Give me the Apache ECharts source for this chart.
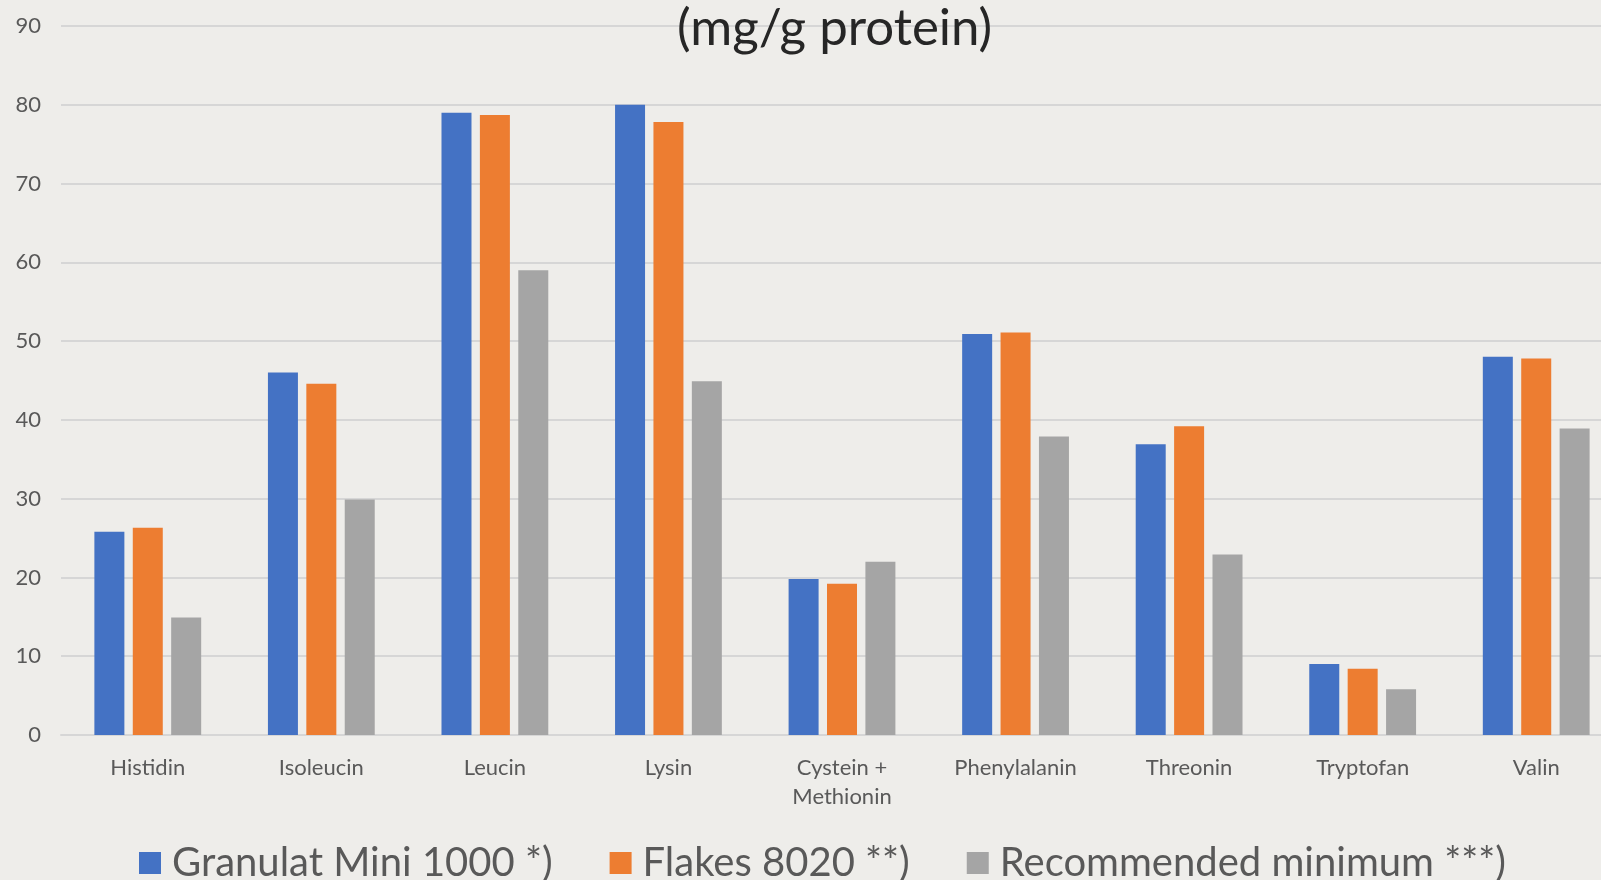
<!DOCTYPE html>
<html>
<head>
<meta charset="utf-8">
<script src="https://cdn.jsdelivr.net/npm/echarts@6/dist/echarts.min.js"></script>
<style>
html,body{margin:0;padding:0;background:#EEEDEA;overflow:hidden;width:1601px;height:880px;}
#main{width:1660px;height:880px;}
</style>
</head>
<body>
<div id="main"></div>
<script>
const categories = ['Histidin','Isoleucin','Leucin','Lysin','Cystein +\nMethionin','Phenylalanin','Threonin','Tryptofan','Valin'];
const granulat = [25.8, 46, 79, 80, 19.8, 50.9, 36.9, 9.0, 48.0];
const flakes = [26.3, 44.6, 78.7, 77.8, 19.2, 51.1, 39.2, 8.4, 47.8];
const recommended = [14.9, 29.9, 59, 44.9, 22, 37.9, 22.9, 5.8, 38.9];
const seriesNames = ['Granulat Mini 1000 *)', 'Flakes 8020 **)', 'Recommended minimum ***)'];
const titleText = '(mg/g protein)';

const chart = echarts.init(document.getElementById('main'));
const font = 'Lato, "Open Sans", sans-serif';
chart.setOption({
  backgroundColor: '#EEEDEA',
  animation: false,
  color: ['#4472C4', '#ED7D31', '#A5A5A5'],
  title: {
    text: titleText,
    left: 672,
    top: -2,
    textStyle: { fontFamily: font, fontSize: 51, fontWeight: 'normal', color: '#262626' }
  },
  legend: {
    data: seriesNames,
    left: 134,
    top: 838,
    itemWidth: 22,
    itemHeight: 22,
    itemGap: 57,
    icon: 'rect',
    textStyle: { fontFamily: font, fontSize: 40, color: '#595959', padding: [0,0,0,6] }
  },
  grid: { left: 61, right: 37, top: 26, bottom: 145 },
  xAxis: {
    type: 'category',
    data: categories,
    axisTick: { show: false },
    axisLine: { lineStyle: { color: '#D6D6D6', width: 2 } },
    axisLabel: { fontFamily: font, fontSize: 22, color: '#595959', margin: 18, lineHeight: 29, interval: 0 }
  },
  yAxis: {
    type: 'value',
    min: 0, max: 90, interval: 10,
    axisLine: { show: false },
    axisTick: { show: false },
    splitLine: { lineStyle: { color: '#D6D6D6', width: 2 } },
    axisLabel: { fontFamily: font, fontSize: 22, color: '#595959', margin: 20 }
  },
  series: [
    { name: seriesNames[0], type: 'bar', data: granulat, barWidth: 30, barGap: '28%' },
    { name: seriesNames[1], type: 'bar', data: flakes, barWidth: 30, barGap: '28%' },
    { name: seriesNames[2], type: 'bar', data: recommended, barWidth: 30, barGap: '28%' }
  ]
});
</script>
</body>
</html>
